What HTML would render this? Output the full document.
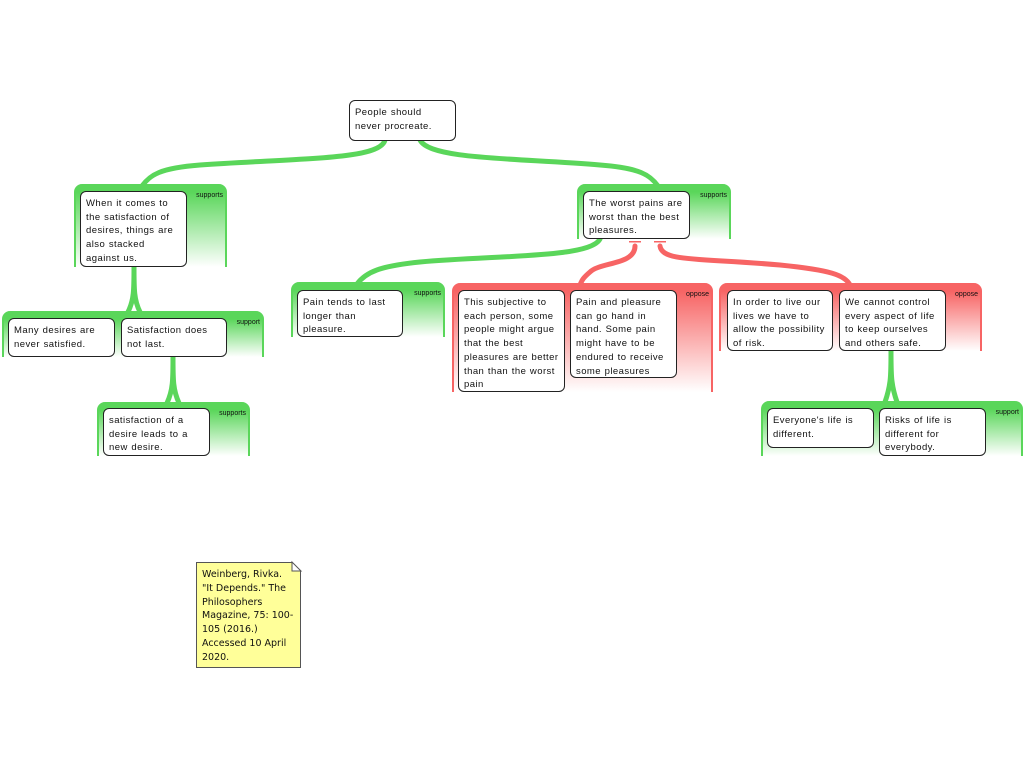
<!DOCTYPE html>
<html><head><style>
body{margin:0;width:1024px;height:768px;background:#fff;position:relative;overflow:hidden;font-family:"Liberation Sans",sans-serif}
.g{position:absolute;border-radius:8px 8px 0 0;box-sizing:border-box}
.gg{background:linear-gradient(#5ad65a 0,#5ad65a 8px,#fff 100%);border-left:2px solid #5ad65a;border-right:2px solid #5ad65a}
.gr{background:linear-gradient(#f76464 0,#f76464 8px,#fff 100%);border-left:2px solid #f76464;border-right:2px solid #f76464}
.lbl{position:absolute;font-size:7px;color:#111;top:8px;right:2px}
.b{position:absolute;background:#fff;border:1.3px solid #222;border-radius:6px;font-size:9.5px;letter-spacing:0.45px;line-height:13.7px;padding:5px 5px;box-sizing:border-box;color:#111;word-spacing:0.5px}
svg{position:absolute;left:0;top:0}
</style></head><body>
<svg width="1024" height="768">
<g fill="none" stroke-linecap="round">
<path d="M385 140 C380 160 300 158 200 165 C160 168 150 175 142 186" stroke="#5ad65a" stroke-width="5"/>
<path d="M420 140 C430 160 520 158 600 165 C640 168 650 175 658 186" stroke="#5ad65a" stroke-width="5"/>
<path d="M600 239 C590 258 500 255 420 262 C380 266 366 272 357 284" stroke="#5ad65a" stroke-width="5"/>
<path d="M635 246 C635 265 600 262 590 272 C583 278 582 280 580 285" stroke="#f76464" stroke-width="5"/>
<path d="M660 246 C662 262 700 258 780 265 C830 270 845 275 850 285" stroke="#f76464" stroke-width="5"/>
<path d="M134 267 C134 290 134 300 128 312 M134 267 C134 290 134 300 140 312" stroke="#5ad65a" stroke-width="5"/>
<path d="M173 357 C173 380 173 390 167 403 M173 357 C173 380 173 390 179 403" stroke="#5ad65a" stroke-width="5"/>
<path d="M891 351 C891 375 891 385 885 402 M891 351 C891 375 891 385 897 402" stroke="#5ad65a" stroke-width="5"/>
</g>
<rect x="629" y="241" width="12" height="1.5" fill="#f76464"/>
<rect x="654" y="241" width="12" height="1.5" fill="#f76464"/>
</svg>

<div class="g gg" style="left:74px;top:184px;width:153px;height:83px"><span class="lbl">supports</span></div>
<div class="g gg" style="left:577px;top:184px;width:154px;height:55px"><span class="lbl">supports</span></div>
<div class="g gg" style="left:291px;top:282px;width:154px;height:55px"><span class="lbl">supports</span></div>
<div class="g gr" style="left:452px;top:283px;width:261px;height:109px"><span class="lbl">oppose</span></div>
<div class="g gr" style="left:719px;top:283px;width:263px;height:68px"><span class="lbl">oppose</span></div>
<div class="g gg" style="left:2px;top:311px;width:262px;height:46px"><span class="lbl">support</span></div>
<div class="g gg" style="left:97px;top:402px;width:153px;height:54px"><span class="lbl">supports</span></div>
<div class="g gg" style="left:761px;top:401px;width:262px;height:55px"><span class="lbl">support</span></div>

<div class="b" style="left:349px;top:100px;width:107px;height:41px">People should never procreate.</div>
<div class="b" style="left:80px;top:191px;width:107px;height:76px">When it comes to the satisfaction of desires, things are also stacked against us.</div>
<div class="b" style="left:583px;top:191px;width:107px;height:48px">The worst pains are worst than the best pleasures.</div>
<div class="b" style="left:297px;top:290px;width:106px;height:47px">Pain tends to last longer than pleasure.</div>
<div class="b" style="left:458px;top:290px;width:107px;height:102px">This subjective to each person, some people might argue that the best pleasures are better than than the worst pain</div>
<div class="b" style="left:570px;top:290px;width:107px;height:88px">Pain and pleasure can go hand in hand. Some pain might have to be endured to receive some pleasures</div>
<div class="b" style="left:727px;top:290px;width:106px;height:61px">In order to live our lives we have to allow the possibility of risk.</div>
<div class="b" style="left:839px;top:290px;width:107px;height:61px">We cannot control every aspect of life to keep ourselves and others safe.</div>
<div class="b" style="left:8px;top:318px;width:107px;height:39px">Many desires are never satisfied.</div>
<div class="b" style="left:121px;top:318px;width:106px;height:39px">Satisfaction does not last.</div>
<div class="b" style="left:103px;top:408px;width:107px;height:48px">satisfaction of a desire leads to a new desire.</div>
<div class="b" style="left:767px;top:408px;width:107px;height:40px">Everyone's life is different.</div>
<div class="b" style="left:879px;top:408px;width:107px;height:48px">Risks of life is different for everybody.</div>

<div style="position:absolute;left:196px;top:562px;width:105px;height:106px;box-sizing:border-box;background:#ffff99;border:1px solid #555;font-family:'DejaVu Sans',sans-serif;font-size:9.5px;line-height:13.8px;padding:5px 5px;color:#111;clip-path:polygon(0 0,96px 0,105px 9px,105px 106px,0 106px)">Weinberg, Rivka. "It Depends." The Philosophers Magazine, 75: 100-105 (2016.) Accessed 10 April 2020.</div>
<svg width="1024" height="768" style="pointer-events:none"><path d="M292 562 L301 571 L292 571 Z" fill="#fff" stroke="#555" stroke-width="1"/></svg>
</body></html>
